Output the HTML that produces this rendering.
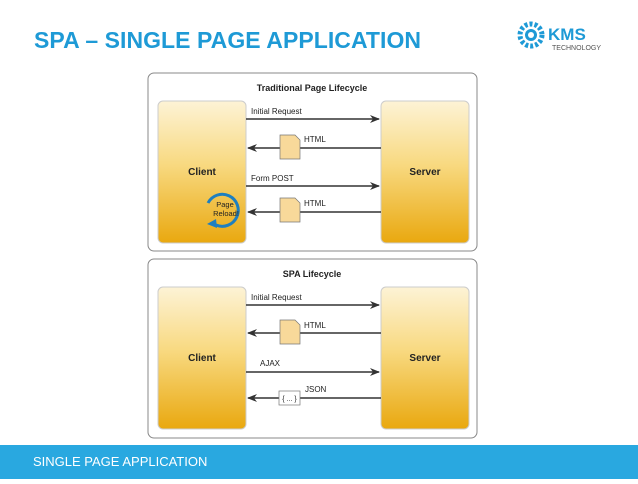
<!DOCTYPE html>
<html><head><meta charset="utf-8"><style>
body{margin:0;width:638px;height:479px;overflow:hidden;background:#fff;font-family:"Liberation Sans",sans-serif}
</style></head><body>
<svg width="638" height="479" viewBox="0 0 638 479" xmlns="http://www.w3.org/2000/svg" font-family="Liberation Sans, sans-serif">
<defs>
<linearGradient id="g" x1="0" y1="0" x2="0" y2="1">
<stop offset="0" stop-color="#fdf3d6"/><stop offset="0.45" stop-color="#f8d980"/><stop offset="1" stop-color="#e9a80f"/>
</linearGradient>
<marker id="a" markerWidth="10" markerHeight="8" refX="9" refY="4" orient="auto" markerUnits="userSpaceOnUse"><path d="M0,0 L10,4 L0,8 L3,4Z" fill="#333"/></marker>
</defs>
<text x="34" y="48" font-size="23" font-weight="bold" fill="#1e9ad6" textLength="387">SPA – SINGLE PAGE APPLICATION</text>
<g transform="translate(531,35)">
<circle r="11" fill="none" stroke="#1e9ad6" stroke-width="5" stroke-dasharray="3 2"/>
<circle r="6" fill="#1e9ad6"/><circle r="3" fill="#fff"/>
</g>
<text x="548" y="40" font-size="17" font-weight="bold" fill="#1e9ad6">KMS</text>
<text x="552" y="50" font-size="7" fill="#555">TECHNOLOGY</text>

<rect x="148" y="73" width="329" height="178" rx="6" fill="#fff" stroke="#888" stroke-width="1"/>
<text x="312" y="91" font-size="9" font-weight="bold" text-anchor="middle" fill="#222">Traditional Page Lifecycle</text>
<rect x="158" y="101" width="88" height="142" rx="5" fill="url(#g)" stroke="#ccc"/>
<rect x="381" y="101" width="88" height="142" rx="5" fill="url(#g)" stroke="#ccc"/>
<text x="202" y="175" font-size="10" font-weight="bold" text-anchor="middle" fill="#222">Client</text>
<text x="425" y="175" font-size="10" font-weight="bold" text-anchor="middle" fill="#222">Server</text>
<line x1="246" y1="119" x2="379" y2="119" stroke="#333" stroke-width="1.5" marker-end="url(#a)"/>
<line x1="381" y1="148" x2="248" y2="148" stroke="#333" stroke-width="1.5" marker-end="url(#a)"/>
<line x1="246" y1="186" x2="379" y2="186" stroke="#333" stroke-width="1.5" marker-end="url(#a)"/>
<line x1="381" y1="212" x2="248" y2="212" stroke="#333" stroke-width="1.5" marker-end="url(#a)"/>
<text x="251" y="114" font-size="8" fill="#222">Initial Request</text>
<text x="251" y="181" font-size="8" fill="#222">Form POST</text>
<path d="M280,135 h15 l5,5 v19 h-20z" fill="#f8d99a" stroke="#777" stroke-width="0.7"/>
<path d="M280,198 h15 l5,5 v19 h-20z" fill="#f8d99a" stroke="#777" stroke-width="0.7"/>
<text x="304" y="142" font-size="8" fill="#222">HTML</text>
<text x="304" y="206" font-size="8" fill="#222">HTML</text>
<path d="M208,203 A16,16 0 1 1 216,225" fill="none" stroke="#1e7fc0" stroke-width="3"/>
<path d="M207,224 l9,-5 l1,9z" fill="#1e7fc0"/>
<text x="225" y="207" font-size="7.5" text-anchor="middle" fill="#222">Page</text>
<text x="226" y="216" font-size="7.5" text-anchor="middle" fill="#222">Reload!</text>

<rect x="148" y="259" width="329" height="179" rx="6" fill="#fff" stroke="#888" stroke-width="1"/>
<text x="312" y="277" font-size="9" font-weight="bold" text-anchor="middle" fill="#222">SPA Lifecycle</text>
<rect x="158" y="287" width="88" height="142" rx="5" fill="url(#g)" stroke="#ccc"/>
<rect x="381" y="287" width="88" height="142" rx="5" fill="url(#g)" stroke="#ccc"/>
<text x="202" y="361" font-size="10" font-weight="bold" text-anchor="middle" fill="#222">Client</text>
<text x="425" y="361" font-size="10" font-weight="bold" text-anchor="middle" fill="#222">Server</text>
<line x1="246" y1="305" x2="379" y2="305" stroke="#333" stroke-width="1.5" marker-end="url(#a)"/>
<line x1="381" y1="333" x2="248" y2="333" stroke="#333" stroke-width="1.5" marker-end="url(#a)"/>
<line x1="246" y1="372" x2="379" y2="372" stroke="#333" stroke-width="1.5" marker-end="url(#a)"/>
<line x1="381" y1="398" x2="248" y2="398" stroke="#333" stroke-width="1.5" marker-end="url(#a)"/>
<text x="251" y="300" font-size="8" fill="#222">Initial Request</text>
<text x="260" y="366" font-size="8" fill="#222">AJAX</text>
<path d="M280,320 h15 l5,5 v19 h-20z" fill="#f8d99a" stroke="#777" stroke-width="0.7"/>
<text x="304" y="328" font-size="8" fill="#222">HTML</text>
<rect x="279" y="391" width="21" height="14" fill="#fff" stroke="#777" stroke-width="0.7"/>
<text x="289.5" y="401" font-size="7" text-anchor="middle" fill="#222">{ ... }</text>
<text x="305" y="392" font-size="8" fill="#222">JSON</text>

<rect x="0" y="445" width="638" height="34" fill="#29a8e0"/>
<text x="33" y="466" font-size="13" fill="#fff">SINGLE PAGE APPLICATION</text>
</svg>
</body></html>
